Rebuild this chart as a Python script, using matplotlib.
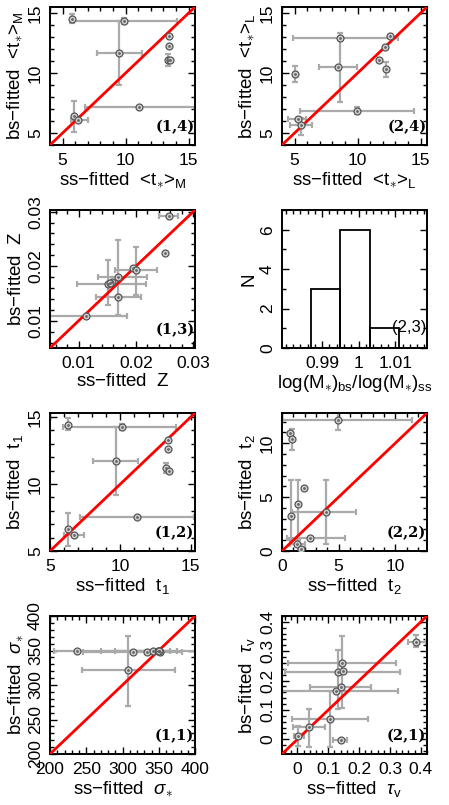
import numpy as np
import matplotlib
matplotlib.use("Agg")
import matplotlib.pyplot as plt
from matplotlib.ticker import MultipleLocator

plt.rcParams['font.family'] = ['Liberation Sans', 'DejaVu Sans']
plt.rcParams['mathtext.fontset'] = 'custom'
plt.rcParams['mathtext.rm'] = 'Liberation Sans'
plt.rcParams['mathtext.it'] = 'Liberation Sans:italic'

# ---------------- data ----------------
# panel (1,4): mass-weighted age
tM_x = [5.72, 9.90, 9.48, 13.44, 13.44, 13.38, 13.55, 5.90, 6.20, 11.09]
tM_y = [14.50, 14.36, 11.64, 13.08, 12.25, 11.05, 11.05, 6.42, 6.08, 7.14]
tM_xlo = [5.72, 5.72, 7.70, 13.44, 13.44, 13.38, 13.55, 5.90, 5.63, 6.78]
tM_xhi = [5.72, 14.05, 11.28, 13.44, 13.44, 13.38, 13.55, 5.90, 7.04, 15.50]
tM_ylo = [14.15, 14.10, 9.00, 13.08, 12.25, 10.60, 11.05, 5.10, 6.08, 7.14]
tM_yhi = [14.95, 14.60, 14.36, 13.08, 12.25, 11.60, 11.05, 7.70, 6.08, 7.14]

# panel (2,4): light-weighted age
tL_x = [5.00, 8.57, 8.44, 12.59, 12.14, 11.69, 12.22, 9.97, 5.27, 5.48]
tL_y = [9.92, 12.93, 10.52, 13.07, 12.13, 11.08, 10.30, 6.85, 6.16, 5.69]
tL_xlo = [5.00, 4.87, 6.90, 12.59, 12.14, 11.69, 12.22, 5.40, 4.50, 4.60]
tL_xhi = [5.00, 13.20, 9.97, 12.59, 12.14, 11.69, 12.22, 14.50, 5.90, 6.38]
tL_ylo = [9.28, 7.62, 10.52, 13.07, 12.13, 11.08, 9.70, 6.55, 6.16, 4.86]
tL_yhi = [10.58, 13.37, 10.52, 13.07, 12.13, 11.08, 10.90, 7.15, 6.16, 6.24]

# panel (1,3): metallicity
Z_x = [0.02582, 0.02507, 0.01954, 0.02000, 0.01692, 0.01518, 0.01582, 0.01692, 0.01128, 0.01554]
Z_y = [0.02926, 0.02250, 0.01963, 0.01926, 0.01798, 0.01677, 0.01707, 0.01427, 0.01079, 0.01690]
Z_xlo = [0.02408, 0.02507, 0.01954, 0.01634, 0.01343, 0.00977, 0.01582, 0.01303, 0.00500, 0.01554]
Z_xhi = [0.02739, 0.02507, 0.01954, 0.02361, 0.02187, 0.02175, 0.01582, 0.02082, 0.01838, 0.01554]
Z_ylo = [0.02926, 0.02250, 0.01963, 0.01475, 0.01110, 0.01293, 0.01707, 0.01427, 0.01079, 0.01690]
Z_yhi = [0.02926, 0.02250, 0.01963, 0.02359, 0.02481, 0.02115, 0.01707, 0.01427, 0.01079, 0.01690]

# panel (2,3): histogram of log-mass ratio
hist_edges = [0.987, 0.995, 1.003, 1.011]
hist_counts = [3, 6, 1]

# panel (1,2): t1
t1_x = [6.25, 10.14, 9.69, 13.41, 13.41, 13.24, 13.48, 6.25, 6.71, 11.16]
t1_y = [14.43, 14.24, 11.71, 13.29, 12.63, 11.21, 10.97, 6.63, 6.19, 7.55]
t1_xlo = [6.25, 5.95, 8.08, 13.41, 13.41, 13.24, 13.48, 6.25, 5.99, 7.13]
t1_xhi = [6.25, 13.95, 11.27, 13.41, 13.41, 13.24, 13.48, 6.25, 7.42, 15.20]
t1_ylo = [14.06, 14.00, 9.16, 13.29, 12.63, 10.80, 10.97, 5.40, 6.19, 7.55]
t1_yhi = [14.90, 14.50, 14.24, 13.29, 12.63, 11.60, 10.97, 7.87, 6.19, 7.55]

# panel (2,2): t2
t2_x = [4.91, 0.68, 0.89, 1.93, 1.43, 0.83, 3.87, 2.47, 1.34, 1.70]
t2_y = [12.12, 10.94, 10.38, 5.87, 4.32, 3.23, 3.64, 1.21, 0.68, 0.16]
t2_xlo = [0.00, 0.68, 0.89, 1.93, 1.43, 0.83, 0.89, 0.45, 0.70, 1.70]
t2_xhi = [11.46, 0.68, 0.89, 1.93, 1.43, 0.83, 6.55, 5.57, 2.00, 1.70]
t2_ylo = [11.25, 10.94, 9.38, 5.87, 0.99, 0.99, 0.68, 1.21, 0.68, 0.16]
t2_yhi = [12.80, 10.94, 11.30, 5.87, 6.59, 6.59, 6.59, 1.21, 0.68, 0.16]

# panel (1,1): velocity dispersion
sig_x = [237.7, 315.0, 333.3, 341.6, 349.4, 350.8, 350.5, 351.5, 349.8, 308.0]
sig_y = [348.7, 347.3, 347.3, 348.7, 348.7, 348.7, 349.0, 348.5, 349.5, 321.1]
sig_xlo = [205.0, 246.0, 333.3, 341.6, 290.0, 270.0, 350.5, 351.5, 349.8, 243.7]
sig_xhi = [365.0, 382.0, 333.3, 341.6, 400.0, 375.0, 350.5, 351.5, 349.8, 372.4]
sig_ylo = [348.7, 347.3, 347.3, 348.7, 348.7, 348.7, 349.0, 348.5, 349.5, 269.1]
sig_yhi = [348.7, 347.3, 347.3, 348.7, 348.7, 348.7, 349.0, 348.5, 349.5, 371.2]

# panel (2,1): dust optical depth
tau_x = [0.003, 0.038, 0.104, 0.126, 0.142, 0.131, 0.149, 0.143, 0.140, 0.385]
tau_y = [0.012, 0.043, 0.069, 0.163, 0.179, 0.230, 0.233, 0.261, -0.001, 0.333]
tau_xlo = [-0.010, -0.014, -0.019, -0.050, 0.041, -0.041, 0.149, -0.030, 0.116, 0.357]
tau_xhi = [0.020, 0.090, 0.228, 0.327, 0.239, 0.332, 0.149, 0.319, 0.162, 0.418]
tau_ylo = [-0.022, -0.025, -0.027, 0.163, 0.179, 0.103, 0.233, 0.108, -0.001, 0.315]
tau_yhi = [0.046, 0.103, 0.165, 0.163, 0.179, 0.303, 0.233, 0.352, -0.001, 0.355]

# ---------------- figure ----------------
W, H = 449, 805
fig = plt.figure(figsize=(W / 100, H / 100), dpi=100)

colL, colR, aw = 50 / W, 282 / W, 145 / W
ah = 138 / H
rows = [1 - 145 / H, 1 - 348 / H, 1 - 551 / H, 1 - 754 / H]

TFS = 12.5   # tick labels
LFS = 13.5   # axis labels


def style(ax, xmaj, xmin, ymaj, ymin):
    ax.xaxis.set_major_locator(MultipleLocator(xmaj))
    ax.xaxis.set_minor_locator(MultipleLocator(xmin))
    ax.yaxis.set_major_locator(MultipleLocator(ymaj))
    ax.yaxis.set_minor_locator(MultipleLocator(ymin))
    ax.tick_params(which='both', direction='in', top=True, right=True,
                   width=1.0, labelsize=TFS)
    ax.tick_params(which='major', length=5)
    ax.tick_params(which='minor', length=3)
    ax.tick_params(axis='x', pad=6)
    ax.tick_params(axis='y', pad=5)
    for lbl in ax.get_yticklabels():
        lbl.set_rotation(90)
        lbl.set_va('center')
    for s in ax.spines.values():
        s.set_linewidth(1.4)


def tag(ax, s, bold=True):
    if bold:
        ax.text(0.995, 0.13, s, transform=ax.transAxes, ha='right', va='center',
                fontsize=10.5, fontweight='bold', family='DejaVu Serif')
    else:
        ax.text(0.995, 0.15, s, transform=ax.transAxes, ha='right', va='center',
                fontsize=12)


def scatter_panel(ax, x, y, xlo, xhi, ylo, yhi, lim, xl, yl, t):
    x = np.asarray(x); y = np.asarray(y)
    xerr = [x - np.asarray(xlo), np.asarray(xhi) - x]
    yerr = [y - np.asarray(ylo), np.asarray(yhi) - y]
    ax.set_xlim(lim); ax.set_ylim(lim)
    ax.errorbar(x, y, xerr=xerr, yerr=yerr, fmt='none', ecolor='#aaaaaa',
                elinewidth=1.6, capsize=2, capthick=1.6, zorder=2)
    ax.axline((lim[0], lim[0]), slope=1, color='red', lw=2, zorder=3)
    ax.plot(x, y, 'o', mfc='#d0d0d0', mec='#555555', ms=5.0, mew=0.9, zorder=4)
    ax.plot(x, y, 'o', color='#666666', ms=1.0, zorder=5)
    ax.set_xlabel(xl, fontsize=LFS, labelpad=1)
    ax.set_ylabel(yl, fontsize=LFS, labelpad=2)
    tag(ax, t)


ax1 = fig.add_axes([colL, rows[0], aw, ah])
scatter_panel(ax1, tM_x, tM_y, tM_xlo, tM_xhi, tM_ylo, tM_yhi, (4, 15.5),
              r'ss$-$fitted  <t$_{\ast}$>$_{\rm M}$', r'bs$-$fitted  <t$_{\ast}$>$_{\rm M}$', '(1,4)')
style(ax1, 5, 1, 5, 1)

ax2 = fig.add_axes([colR, rows[0], aw, ah])
scatter_panel(ax2, tL_x, tL_y, tL_xlo, tL_xhi, tL_ylo, tL_yhi, (4, 15.5),
              r'ss$-$fitted  <t$_{\ast}$>$_{\rm L}$', r'bs$-$fitted  <t$_{\ast}$>$_{\rm L}$', '(2,4)')
style(ax2, 5, 1, 5, 1)

ax3 = fig.add_axes([colL, rows[1], aw, ah])
scatter_panel(ax3, Z_x, Z_y, Z_xlo, Z_xhi, Z_ylo, Z_yhi, (0.005, 0.0303),
              r'ss$-$fitted  Z', r'bs$-$fitted  Z', '(1,3)')
style(ax3, 0.01, 0.002, 0.01, 0.002)

ax4 = fig.add_axes([colR, rows[1], aw, ah])
ax4.bar(hist_edges[:-1], hist_counts, width=np.diff(hist_edges), align='edge',
        fill=False, edgecolor='black', linewidth=1.3)
ax4.set_xlim(0.979, 1.0187)
ax4.set_ylim(0, 7)
ax4.set_xlabel(r'log(M$_{\ast}$)$_{\rm bs}$/log(M$_{\ast}$)$_{\rm ss}$', fontsize=LFS, labelpad=1)
ax4.set_ylabel('N', fontsize=LFS, labelpad=2)
style(ax4, 0.01, 0.002, 2, 1)
ax4.set_xticks([0.99, 1.0, 1.01])
ax4.set_xticklabels(['0.99', '1', '1.01'])
tag(ax4, '(2,3)', bold=False)

ax5 = fig.add_axes([colL, rows[2], aw, ah])
scatter_panel(ax5, t1_x, t1_y, t1_xlo, t1_xhi, t1_ylo, t1_yhi, (5, 15.3),
              r'ss$-$fitted  t$_1$', r'bs$-$fitted  t$_1$', '(1,2)')
style(ax5, 5, 1, 5, 1)

ax6 = fig.add_axes([colR, rows[2], aw, ah])
scatter_panel(ax6, t2_x, t2_y, t2_xlo, t2_xhi, t2_ylo, t2_yhi, (0, 12.8),
              r'ss$-$fitted  t$_2$', r'bs$-$fitted  t$_2$', '(2,2)')
style(ax6, 5, 1, 5, 1)

ax7 = fig.add_axes([colL, rows[3], aw, ah])
scatter_panel(ax7, sig_x, sig_y, sig_xlo, sig_xhi, sig_ylo, sig_yhi, (200, 400),
              r'ss$-$fitted  $\sigma_{\ast}$', r'bs$-$fitted  $\sigma_{\ast}$', '(1,1)')
style(ax7, 50, 10, 50, 10)

ax8 = fig.add_axes([colR, rows[3], aw, ah])
scatter_panel(ax8, tau_x, tau_y, tau_xlo, tau_xhi, tau_ylo, tau_yhi, (-0.05, 0.42),
              r'ss$-$fitted  $\tau_{\rm v}$', r'bs$-$fitted  $\tau_{\rm v}$', '(2,1)')
style(ax8, 0.1, 0.02, 0.1, 0.02)
ax8.set_xticks([0, 0.1, 0.2, 0.3, 0.4]); ax8.set_xticklabels(['0', '0.1', '0.2', '0.3', '0.4'])
ax8.set_yticks([0, 0.1, 0.2, 0.3, 0.4]); ax8.set_yticklabels(['0', '0.1', '0.2', '0.3', '0.4'],
                                                            rotation=90, va='center')
ax8.set_ylim(-0.05, 0.42)
ax3.set_xticks([0.01, 0.02, 0.03]); ax3.set_xticklabels(['0.01', '0.02', '0.03'])
ax3.set_yticks([0.01, 0.02, 0.03]); ax3.set_yticklabels(['0.01', '0.02', '0.03'],
                                                        rotation=90, va='center')
ax3.set_ylim(0.005, 0.0303)

fig.savefig('out.png', dpi=100)
